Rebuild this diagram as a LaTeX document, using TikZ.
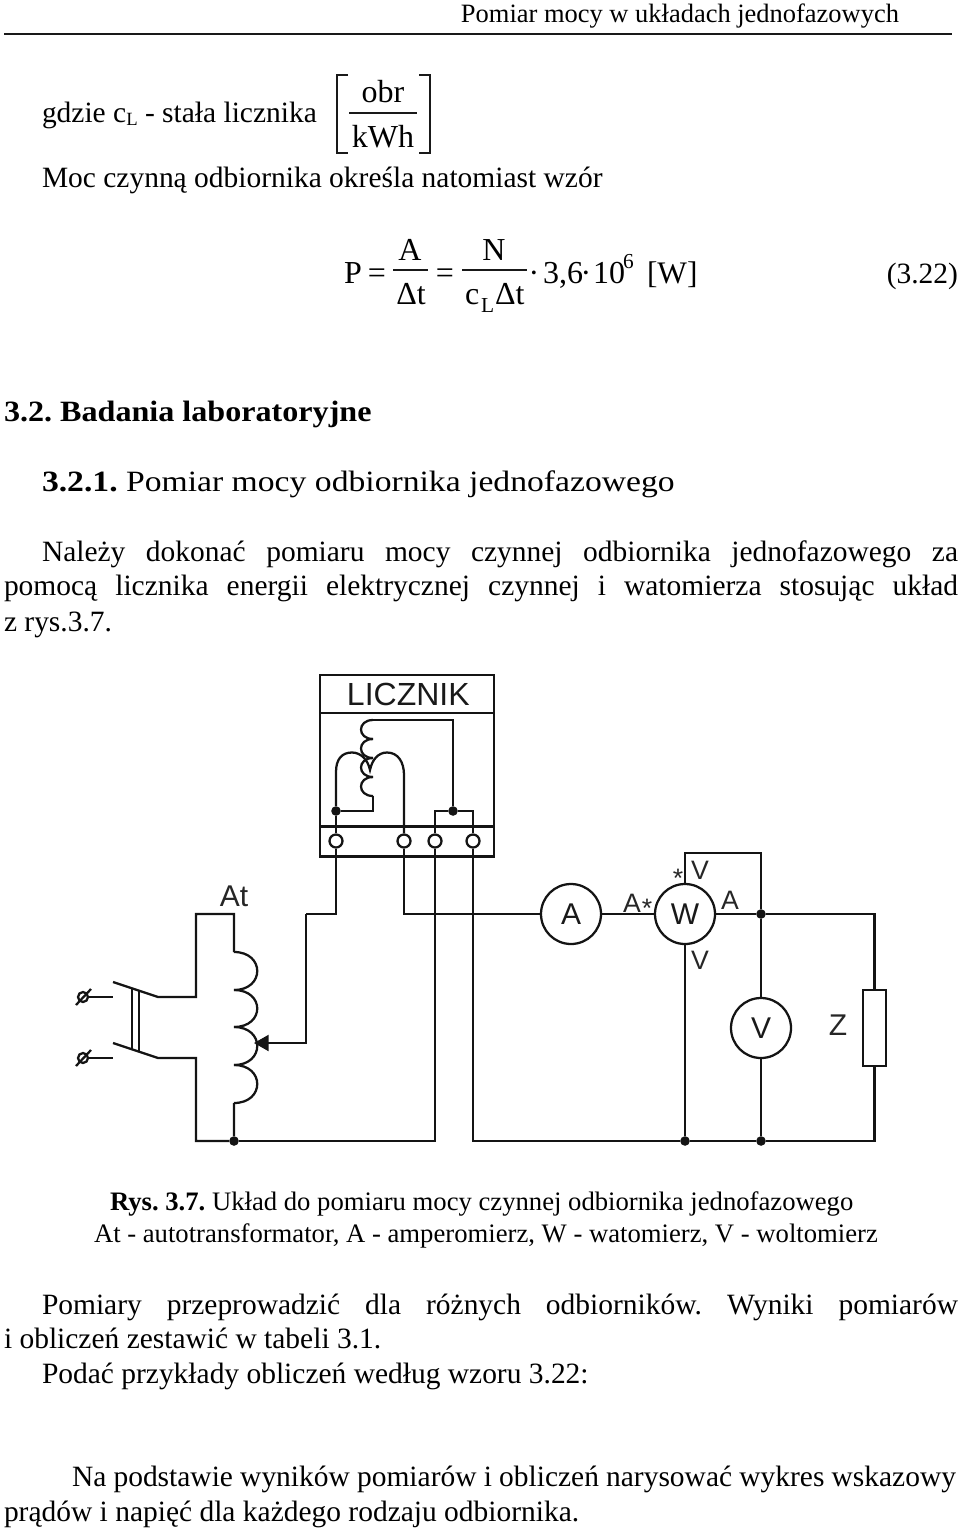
\documentclass[tikz,border=0pt]{standalone}
\usepackage{fontspec}
\setmainfont{Liberation Serif}
\newfontfamily\diagramfont{Liberation Sans}
\usetikzlibrary{arrows.meta}
\frenchspacing
\tikzset{
    txt/.style = {anchor=base west, inner sep=0pt, outer sep=0pt, yshift=-0.75pt, font=\fontsize{22.1pt}{26pt}\selectfont},
    txtr/.style = {txt, anchor=base east},
    eqn/.style = {txt, anchor=base, font=\fontsize{24pt}{28pt}\selectfont},
    eqnl/.style = {txt, font=\fontsize{24pt}{28pt}\selectfont},
    wire/.style = {line width=1.7pt, line join=miter, black!92},
    thin rule/.style = {line width=0.9pt, black!90},
    junction/.style = {circle, fill=black!92, inner sep=0pt, minimum size=7.2pt},
    terminal/.style = {circle, wire, draw, inner sep=0pt, minimum size=9.75pt},
    meter/.style = {circle, wire, draw, inner sep=0pt, minimum size=45pt, text=black!90, font=\diagramfont\fontsize{22.5pt}{24pt}\selectfont},
    panel/.style = {rectangle, wire, draw, inner sep=0pt, minimum width=130.5pt, text=black!90},
    biglabel/.style = {inner sep=0pt, text=black!85, font=\diagramfont\fontsize{22.5pt}{24pt}\selectfont},
    smalllabel/.style = {inner sep=0pt, text=black!85, font=\diagramfont\fontsize{20pt}{22pt}\selectfont},
}
\begin{document}
\begin{tikzpicture}[x=0.75pt, y=-0.75pt]
    \def\fitline#1#2{\makebox[#1][s]{#2}}
    \useasboundingbox (0,0) rectangle (960,1530);

    \node[txtr, font=\fontsize{19.85pt}{22pt}\selectfont] (header) at (899,22) {Pomiar mocy w układach jednofazowych};
    \draw[line width=1.5pt, black!90] (4,34) -- (952,34);

    \node[txt] (where) at (42,122) {gdzie c\raisebox{-2pt}{\fontsize{14pt}{15pt}\selectfont L} - stała licznika};
    \node[eqn] (obr) at (383,102) {obr};
    \node[eqn] (kwh) at (383,147) {kWh};
    \draw[thin rule] (349,113) -- (417,113);
    \draw[thin rule] (348,75) -- (337,75) -- (337,153) -- (348,153);
    \draw[thin rule] (419,75) -- (430,75) -- (430,153) -- (419,153);
    \node[txt] (power) at (42,187) {Moc czynną odbiornika określa natomiast wzór};

    \node[eqnl] (eqp) at (344,282) {P};
    \node[eqn] (eqsign1) at (377,282) {=};
    \node[eqn] (eqa) at (410,259) {A};
    \node[eqn] (eqdt) at (411,303) {Δt};
    \draw[thin rule] (393,270) -- (428,270);
    \node[eqn] (eqsign2) at (445,282) {=};
    \node[eqn] (eqn) at (494,259) {N};
    \node[eqnl] (eqc) at (465,303) {c};
    \node[eqnl, font=\fontsize{16pt}{17pt}\selectfont] (eql) at (481,311) {L};
    \node[eqnl] (eqdt2) at (495,303) {Δt};
    \draw[thin rule] (462,270) -- (527,270);
    \node[eqn] (eqdot1) at (534,282) {·};
    \node[eqnl] (eqval) at (543,282) {3,6};
    \node[eqn] (eqdot2) at (586,282) {·};
    \node[eqnl] (eqten) at (593,282) {10};
    \node[eqnl, font=\fontsize{16pt}{17pt}\selectfont] (eqexp) at (623,267) {6};
    \node[eqnl, font=\fontsize{23.5pt}{28pt}\selectfont] (equnit) at (647,282) {[W]};
    \node[txtr] (eqno) at (958,282) {(3.22)};

    \node[txt] (sect) at (4,420) {\addfontfeature{FakeStretch=1.09}\bfseries 3.2. Badania laboratoryjne};
    \node[txt] (subsect) at (42,490) {\addfontfeature{FakeStretch=1.142}\bfseries 3.2.1. \mdseries Pomiar mocy odbiornika jednofazowego};
    \node[txt] (body1) at (42,560) {\fitline{687pt}{Należy dokonać pomiaru mocy czynnej odbiornika jednofazowego za}};
    \node[txt] (body2) at (4,594) {\fitline{715.5pt}{pomocą licznika energii elektrycznej czynnej i watomierza stosując układ}};
    \node[txt] (body3) at (4,630) {z rys.3.7.};

    \node[panel, minimum height=28.5pt, font=\diagramfont\fontsize{24pt}{26pt}\selectfont] (titlebox) at (407,694) {\hspace{2pt}LICZNIK};
    \node[panel, minimum height=84.75pt] (coilbox) at (407,769.5) {};
    \node[panel, minimum height=22.5pt] (termbox) at (407,841.5) {};

    \node[terminal] (t1) at (336,841) {};
    \node[terminal] (t2) at (404,841) {};
    \node[terminal] (t3) at (435,841) {};
    \node[terminal] (t4) at (473,841) {};
    \node[junction] (jl) at (336,811) {};
    \node[junction] (jr) at (453,811) {};
    \coordinate (vctop) at (373,720);
    \coordinate (vcbot) at (373,796);
    \coordinate (archl) at (336,772);
    \coordinate (archm) at (370,770);
    \coordinate (archr) at (404,775);

    \draw[wire] (t3) |- (jr);
    \draw[wire] (t4) |- (jr);
    \draw[wire] (jr) |- (vctop);
    \foreach \ya/\yb in {720/739, 739/758, 758/777, 777/796}
        \draw[wire] (373,\ya) .. controls (357,\ya) and (357,\yb) .. (373,\yb);
    \draw[wire] (vcbot) |- (jl);
    \draw[wire] (t1) -- (jl);
    \draw[wire] (jl) -- (archl) .. controls (336,759) and (342,752.5) .. (352,752.5)
        .. controls (361,752.5) and (368,760) .. (archm)
        .. controls (372,760) and (378,752.5) .. (387,752.5)
        .. controls (398,752.5) and (404,762) .. (archr) -- (t2);

    \node[meter] (ammeter) at (571,914) {A};
    \node[meter] (wattmeter) at (685,914) {W};
    \node[meter] (voltmeter) at (761,1028) {V};
    \node[rectangle, wire, draw, inner sep=0pt, minimum width=17.25pt, minimum height=57pt] (load) at (874.5,1028) {};
    \node[junction] (ja) at (761,914) {};
    \node[junction] (jw) at (685,1141) {};
    \node[junction] (jv) at (761,1141) {};
    \node[junction] (jb) at (234,1141) {};
    \coordinate (loadcorner) at (874.5,1141);
    \coordinate (vloop) at (761,853);
    \coordinate (route) at (306,914);
    \coordinate (tap) at (254,1043);

    \draw[wire] (t1) |- (route);
    \draw[wire, -{Triangle[length=11pt, width=12pt]}] (route) |- (tap);
    \draw[wire] (t2) |- (ammeter);
    \draw[wire] (t3) |- (jb);
    \draw[wire] (t4) |- (jw);
    \draw[wire] (ammeter) -- (wattmeter);
    \draw[wire] (wattmeter) -- (ja);
    \draw[wire] (ja) -| (load);
    \draw[wire] (wattmeter.north) |- (vloop) -- (ja);
    \draw[wire] (ja) -- (voltmeter);
    \draw[wire] (voltmeter) -- (jv);
    \draw[wire] (wattmeter) -- (jw);
    \draw[wire] (load) -- (loadcorner) -- (jv) -- (jw);

    \coordinate (attop) at (234,952);
    \coordinate (atbot) at (234,1103);
    \coordinate (bustop) at (196,914);
    \coordinate (busbot) at (196,1141);
    \coordinate (pivota) at (158,997);
    \coordinate (pivotb) at (158,1058);
    \coordinate (bladea) at (113,982);
    \coordinate (bladeb) at (113,1043);
    \coordinate (stuba) at (113,997);
    \coordinate (stubb) at (113,1058);
    \coordinate (bar1a) at (132,988);
    \coordinate (bar1b) at (132,1049);
    \coordinate (bar2a) at (139,991);
    \coordinate (bar2b) at (139,1052);
    \node[circle, wire, draw, inner sep=0pt, minimum size=7.5pt] (ina) at (83,997) {};
    \node[circle, wire, draw, inner sep=0pt, minimum size=7.5pt] (inb) at (83,1058) {};

    \draw[wire] (attop) -- (attop |- bustop) -- (bustop) |- (pivota) -- (bladea);
    \draw[wire] (atbot) -- (jb) -- (busbot) |- (pivotb) -- (bladeb);
    \foreach \ya/\yb in {952/990, 990/1027, 1027/1065, 1065/1103}
        \draw[wire] (234,\ya) .. controls (265,\ya) and (265,\yb) .. (234,\yb);
    \draw[wire] (bar1a) -- (bar1b);
    \draw[wire] (bar2a) -- (bar2b);
    \draw[wire] (ina) -- (stuba);
    \draw[wire] (inb) -- (stubb);
    \draw[wire] (76,1005) -- (91,989);
    \draw[wire] (76,1066) -- (91,1050);

    \node[biglabel] (atlabel) at (234,896) {At};
    \node[biglabel] (zlabel) at (838,1025) {Z};
    \node[smalllabel] (wvtop) at (700,870) {V};
    \node[smalllabel] (wstar) at (678,878) {*};
    \node[smalllabel] (waright) at (730,900) {A};
    \node[smalllabel] (waleft) at (632,903) {A};
    \node[smalllabel] (wstarl) at (647,908) {*};
    \node[smalllabel] (wvbot) at (700,960) {V};

    \node[txt, font=\fontsize{20pt}{24pt}\selectfont] (caption1) at (110,1209) {\bfseries Rys. 3.7. \mdseries Układ do pomiaru mocy czynnej odbiornika jednofazowego};
    \node[txt, font=\fontsize{20pt}{24pt}\selectfont] (caption2) at (94,1241) {At - autotransformator, A - amperomierz, W - watomierz, V - woltomierz};

    \node[txt] (end1) at (42,1313) {\fitline{687pt}{Pomiary przeprowadzić dla różnych odbiorników. Wyniki pomiarów}};
    \node[txt] (end2) at (4,1347) {i obliczeń zestawić w tabeli 3.1.};
    \node[txt] (end3) at (42,1382) {Podać przykłady obliczeń według wzoru 3.22:};
    \node[txt] (end4) at (72,1485) {\fitline{663pt}{Na podstawie wyników pomiarów i obliczeń narysować wykres wskazowy}};
    \node[txt] (end5) at (4,1520) {prądów i napięć dla każdego rodzaju odbiornika.};
\end{tikzpicture}
\end{document}
